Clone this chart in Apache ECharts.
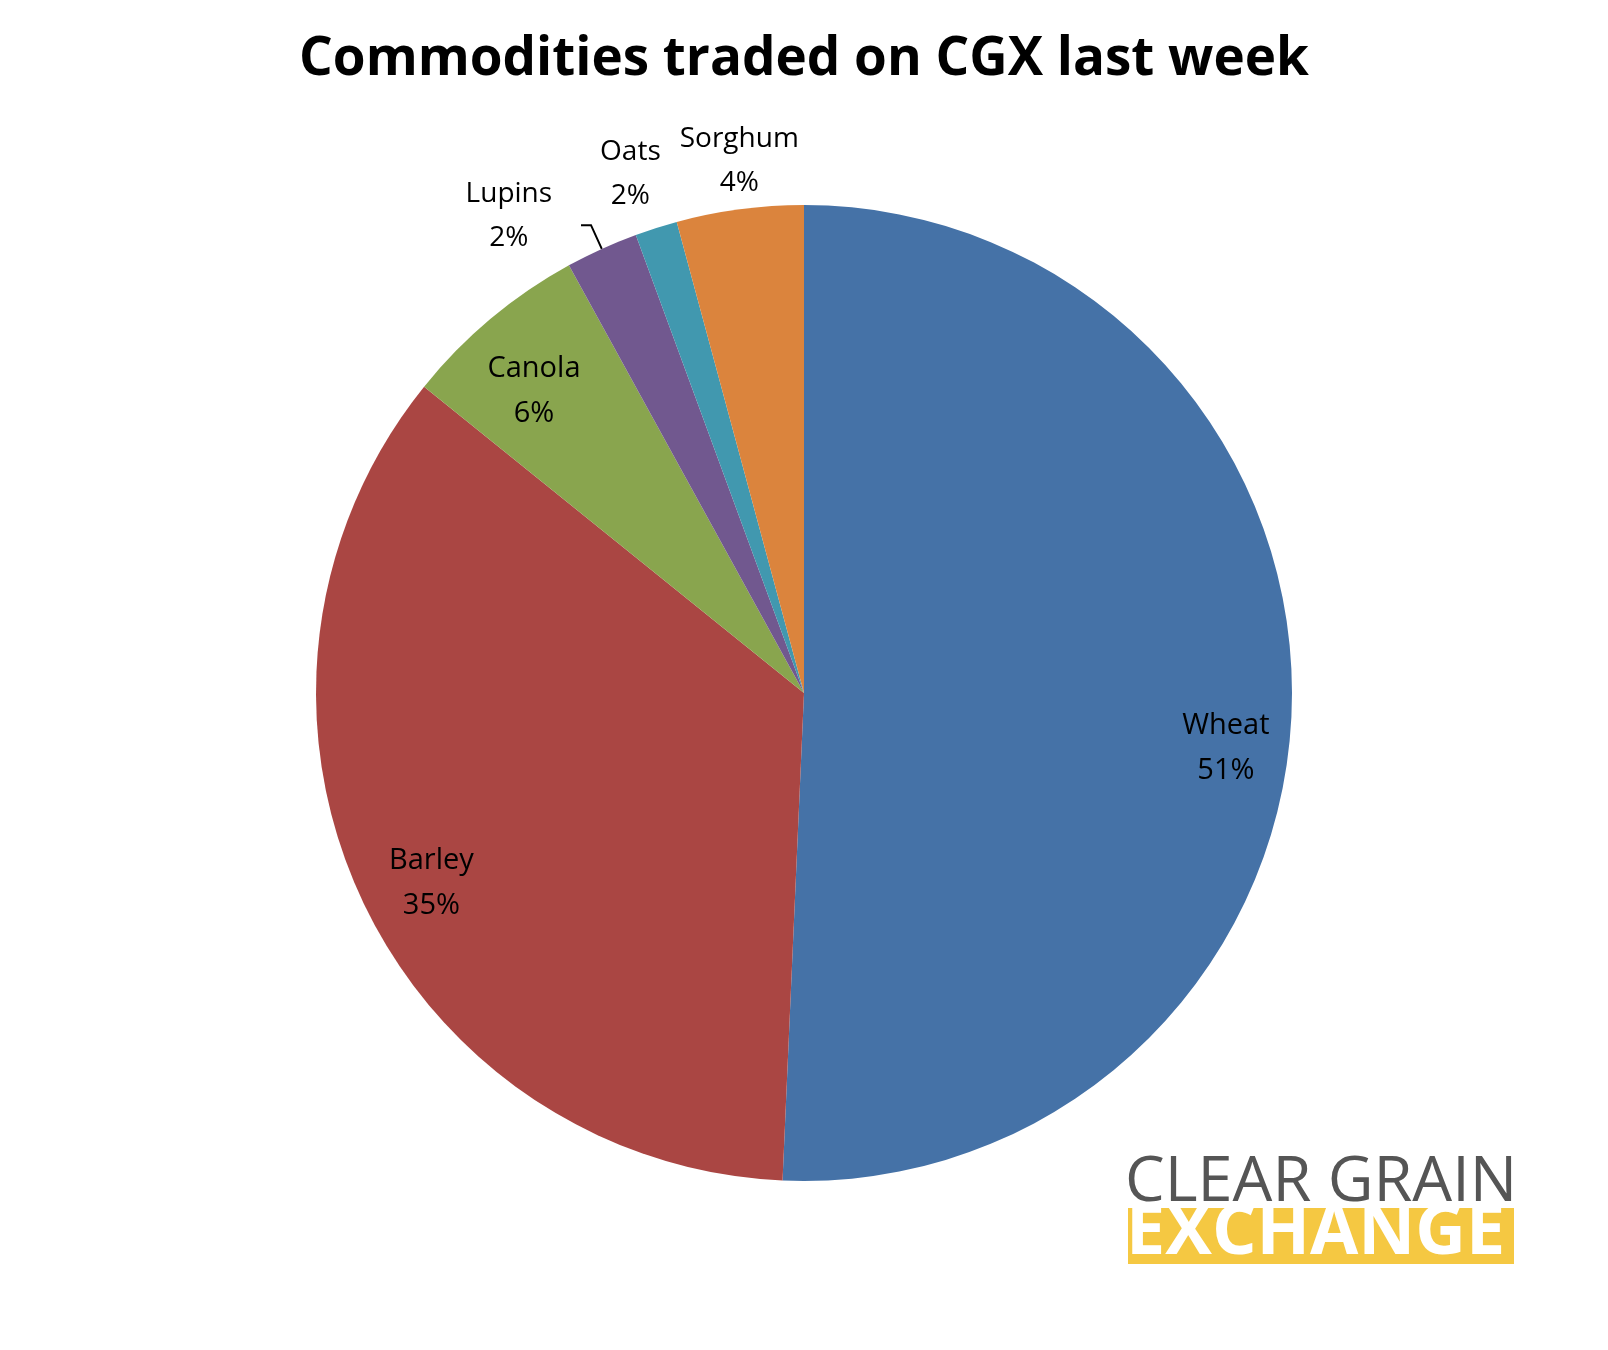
<!DOCTYPE html>
<html><head><meta charset="utf-8">
<script src="https://cdn.jsdelivr.net/npm/echarts@6/dist/echarts.min.js"></script>
<style>html,body{margin:0;background:#fff}#c{width:1608px;height:1350px}</style>
</head><body><div id="c"></div>
<script>
const categories = ['Wheat','Barley','Canola','Lupins','Oats','Sorghum'];
const values = [50.7, 35.1, 6.2, 2.4, 1.4, 4.2];
const percentLabels = ['51%','35%','6%','2%','2%','4%'];
const colors = ['#4572A7','#AA4643','#89A54E','#71588F','#4198AF','#DB843D'];
const insideSet = ['Wheat','Barley','Canola'];
const labelNudge = { Wheat: [0, 46], Barley: [12, 17], Canola: [1, 22], Lupins: [-66, 26], Oats: [-6, 8], Sorghum: [8, 16] };
const font = '"Open Sans", Lato, sans-serif';
const chart = echarts.init(document.getElementById('c'));
const lbl = (i) => categories[i] + '\n' + percentLabels[i];
chart.setOption({
  animation: false,
  title: { text: 'Commodities traded on CGX last week', left: 'center', top: 28,
    textStyle: { fontSize: 53, fontWeight: 'bold', fontFamily: font, color: '#000' } },
  series: [
    { type: 'pie', center: [804, 693], radius: [0, 488], clockwise: true, startAngle: 90,
      silent: true, avoidLabelOverlap: false, labelLayout: { hideOverlap: false },
      data: categories.map((c, i) => ({
        name: c, value: values[i], itemStyle: { color: colors[i] },
        label: c === 'Lupins' ? { show: true, position: 'outside', formatter: ' ', fontSize: 10 } : { show: false },
        labelLine: { show: c === 'Lupins', length: 26, length2: 10, lineStyle: { color: '#000', width: 2 } }
      }))
    },
    { type: 'pie', center: [804, 693], radius: [350, 488], startAngle: 90, silent: true,
      labelLayout: { hideOverlap: false },
      data: categories.map((c, i) => ({
        name: c, value: values[i], itemStyle: { color: 'transparent' },
        label: insideSet.includes(c) ? { show: true, position: 'inside', formatter: lbl(i), offset: labelNudge[c],
          fontSize: 29, lineHeight: 45, fontFamily: font, color: '#000' } : { show: false }
      }))
    },
    { type: 'pie', center: [804, 693], radius: [520, 580], startAngle: 90, silent: true,
      labelLayout: { hideOverlap: false },
      data: categories.map((c, i) => ({
        name: c, value: values[i], itemStyle: { color: 'transparent' },
        label: !insideSet.includes(c) ? { show: true, position: 'inside', formatter: lbl(i), offset: labelNudge[c],
          fontSize: 28, lineHeight: 44, fontFamily: font, color: '#000' } : { show: false }
      }))
    }
  ],
  graphic: [
    { type: 'text', left: 1125, top: 1152, style: { text: 'CLEAR GRAIN', fontSize: 63,
      fontFamily: '"Open Sans", sans-serif', fill: '#555' } },
    { type: 'rect', left: 1128, top: 1208, shape: { width: 386, height: 56 }, style: { fill: '#F5C842' } },
    { type: 'text', left: 1126, top: 1199, style: { text: 'EXCHANGE', fontSize: 70, fontWeight: 'bold',
      fontFamily: '"Open Sans", sans-serif', fill: '#fff' } }
  ]
});
</script></body></html>
